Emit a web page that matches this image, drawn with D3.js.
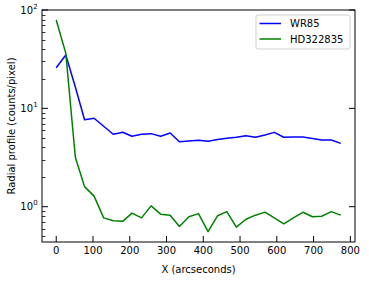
<!DOCTYPE html>
<html><head><meta charset="utf-8">
<script src="https://cdn.jsdelivr.net/npm/d3@7"></script>
<style>body{margin:0;background:#fff}svg{display:block;font-family:"DejaVu Sans",sans-serif}</style>
</head><body>
<svg id="c" width="369" height="281"></svg>
<script>
const xValues = [0, 26, 52, 77, 103, 129, 155, 181, 206, 232, 258, 284, 310, 335, 361, 387, 413, 439, 464, 490, 516, 542, 568, 593, 619, 645, 671, 697, 722, 748, 774];
const wr85 = [25.9, 34.9, 16.5, 7.67, 7.93, 6.58, 5.45, 5.71, 5.2, 5.45, 5.53, 5.2, 5.62, 4.58, 4.66, 4.75, 4.64, 4.83, 4.97, 5.08, 5.26, 5.09, 5.36, 5.7, 5.08, 5.1, 5.12, 4.94, 4.77, 4.77, 4.4];
const hd322835 = [79, 36.4, 3.18, 1.6, 1.28, 0.77, 0.72, 0.71, 0.86, 0.77, 1.02, 0.84, 0.82, 0.63, 0.79, 0.85, 0.557, 0.81, 0.89, 0.62, 0.745, 0.82, 0.88, 0.77, 0.667, 0.77, 0.877, 0.79, 0.8, 0.89, 0.82];
const seriesNames = ["WR85", "HD322835"];
const seriesColors = ["#0000ff", "#008000"];
const xTicks = [0, 100, 200, 300, 400, 500, 600, 700, 800];
const yMajor = [1, 10, 100];
const yExp = ["0", "1", "2"];

const svg = d3.select("#c");
const L = 42, R = 355, T = 10, B = 242;
const x = d3.scaleLinear().domain([-38.7, 812.7]).range([L, R]);
const y = d3.scaleLog().domain([0.4375, 100]).range([B, T]);

// minor ticks
const minors = [];
for (let d = 0.1; d < 100; d *= 10) for (let k = 2; k <= 9; k++) { const v = +(k * d).toPrecision(3); if (v >= 0.4375 && v <= 100) minors.push(v); }
svg.append("g").selectAll("line").data(minors).join("line")
  .attr("x1", L).attr("x2", L + 3.5).attr("y1", d => Math.round(y(d)) + 0.5).attr("y2", d => Math.round(y(d)) + 0.5)
  .attr("stroke", "#000").attr("stroke-width", 0.8);

// y major ticks left and right
svg.append("g").selectAll("line").data(yMajor).join("line")
  .attr("x1", L).attr("x2", L + 6).attr("y1", d => y(d)).attr("y2", d => y(d)).attr("stroke", "#000").attr("stroke-width", 1);
svg.append("g").selectAll("line").data(yMajor).join("line")
  .attr("x1", R).attr("x2", R - 6).attr("y1", d => y(d)).attr("y2", d => y(d)).attr("stroke", "#000").attr("stroke-width", 1);

// y labels
svg.append("g").selectAll("text").data(yMajor).join("text")
  .attr("x", 33).attr("y", d => y(d) + 3.6).attr("text-anchor", "end").attr("font-size", 10).attr("fill", "#000").text("10");
svg.append("g").selectAll("text").data(yMajor).join("text")
  .attr("x", 33.3).attr("y", d => y(d) - 1.5).attr("font-size", 7).attr("fill", "#000").text((d, i) => yExp[i]);

// x ticks
svg.append("g").selectAll("line").data(xTicks).join("line")
  .attr("x1", d => x(d)).attr("x2", d => x(d)).attr("y1", B).attr("y2", B - 6).attr("stroke", "#000").attr("stroke-width", 1);
svg.append("g").selectAll("text").data(xTicks).join("text")
  .attr("x", d => x(d)).attr("y", 253.5).attr("text-anchor", "middle").attr("font-size", 10).attr("fill", "#000").text(d => d);

// lines
const line = d3.line().x((d, i) => x(xValues[i])).y(d => y(d));
[wr85, hd322835].forEach((s, k) => {
  svg.append("path").datum(s).attr("d", line).attr("fill", "none")
    .attr("stroke", seriesColors[k]).attr("stroke-width", 1.5).attr("stroke-linejoin", "round");
});

// frame
svg.append("rect").attr("x", L).attr("y", T).attr("width", R - L).attr("height", B - T)
  .attr("fill", "none").attr("stroke", "#000").attr("stroke-width", 1);

// axis labels
svg.append("text").attr("x", (L + R) / 2).attr("y", 273).attr("text-anchor", "middle").attr("font-size", 10).text("X (arcseconds)");
svg.append("text").attr("transform", `translate(14.5,${(T + B) / 2}) rotate(-90)`).attr("text-anchor", "middle").attr("font-size", 10).text("Radial profile (counts/pixel)");

// legend
const lg = svg.append("g");
lg.append("rect").attr("x", 256).attr("y", 15).attr("width", 94).attr("height", 34).attr("rx", 2)
  .attr("fill", "#fff").attr("fill-opacity", 0.8).attr("stroke", "#d0d0d0").attr("stroke-width", 1);
seriesNames.forEach((n, i) => {
  const yy = 23.5 + i * 15.5;
  lg.append("line").attr("x1", 259.5).attr("x2", 281).attr("y1", yy).attr("y2", yy).attr("stroke", seriesColors[i]).attr("stroke-width", 1.5);
  lg.append("text").attr("x", 290).attr("y", yy + 3.6).attr("font-size", 10).text(n);
});
</script>
</body></html>
